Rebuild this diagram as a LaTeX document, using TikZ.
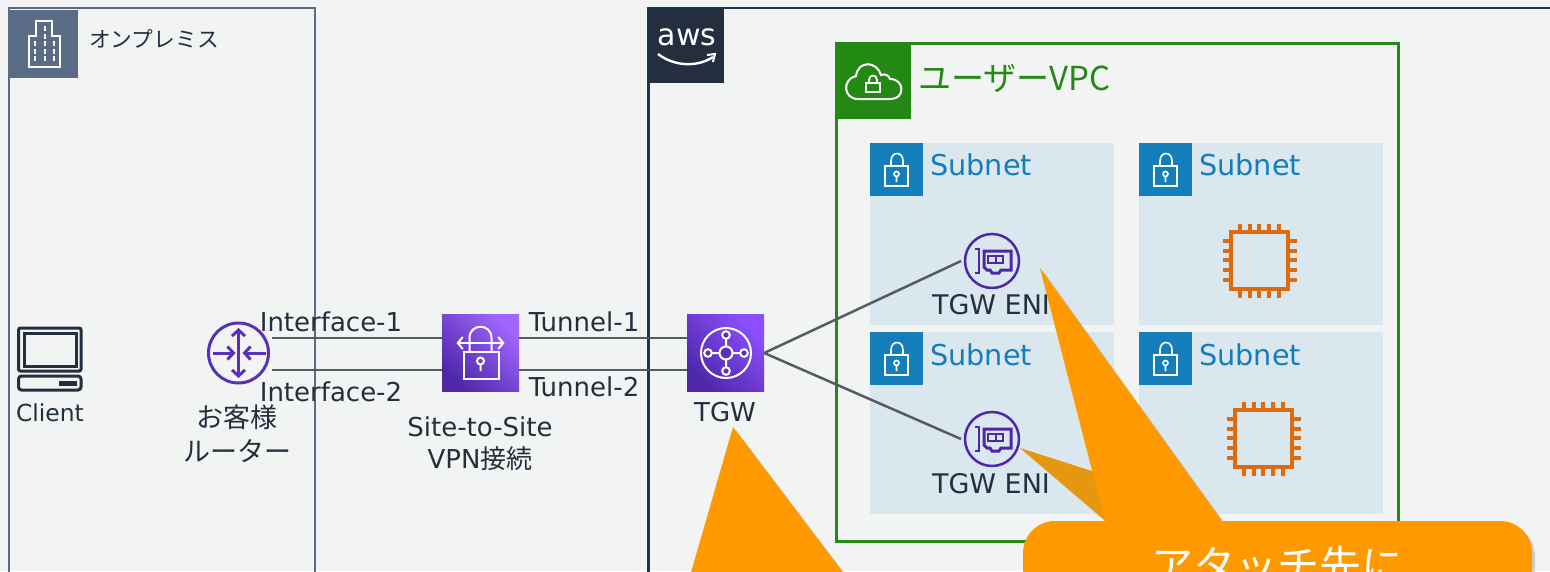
\documentclass[tikz,border=0pt]{standalone}
\usepackage{fontspec}
\setmainfont{DejaVu Sans}
\newfontfamily\jpfont{Noto Sans CJK JP}
\usetikzlibrary{arrows.meta,shadows}
\definecolor{pagebg}{HTML}{F2F4F3}
\definecolor{premblue}{HTML}{5A6B86}
\definecolor{awsdark}{HTML}{232F3E}
\definecolor{awsline}{HTML}{16384F}
\definecolor{vpcgreen}{HTML}{248814}
\definecolor{subnetbg}{HTML}{DBE7EE}
\definecolor{subnetblue}{HTML}{147EBA}
\definecolor{netpurple}{HTML}{5A30B5}
\definecolor{enipurple}{HTML}{4D27A8}
\definecolor{vpnlight}{HTML}{A166FF}
\definecolor{tgwlight}{HTML}{8C4FFF}
\definecolor{chiporange}{HTML}{DD6B10}
\definecolor{linegrey}{HTML}{545B64}
\definecolor{callorange}{HTML}{FF9900}
\definecolor{calldark}{HTML}{E5970F}
\tikzset{
	textlabel/.style={text=awsdark,font=\fontsize{26}{32}\selectfont,align=center,inner sep=0pt},
	iconbox/.style={rectangle,minimum size=77pt,inner sep=0pt,bottom color=enipurple,top color=#1,shading angle=-45},
	link/.style={linegrey,line width=2.5pt},
	callshape/.style={fill=callorange,drop shadow={shadow xshift=3pt,shadow yshift=-3pt,opacity=.16,fill=black}},
	router/.pic={
		\draw [netpurple,line width=3pt] (0,0) circle (30);
		\draw [netpurple,line width=3pt,{Straight Barb[length=6pt,width=13pt]}-{Straight Barb[length=6pt,width=13pt]}] (0,-25) -- (0,25);
		\draw [netpurple,line width=3pt,-{Straight Barb[length=6pt,width=13pt]}] (-26,0) -- (-3,0);
		\draw [netpurple,line width=3pt,-{Straight Barb[length=6pt,width=13pt]}] (27,0) -- (4,0);
	},
	vpnlock/.pic={
		\draw [white,line width=2pt,{Straight Barb[length=5pt,width=12pt]}-{Straight Barb[length=5pt,width=12pt]}] (-24,-10) -- (24,-10);
		\draw [white,line width=2pt] (-11,-1) -- (-11,-15) .. controls (-11,-30) and (11,-30) .. (11,-15) -- (11,-1);
		\draw [white,line width=2pt] (-17,-1) rectangle (18,26);
		\draw [white,line width=2pt] (0,8) circle (3.5) (0,11.5) -- (0,18);
	},
	tgwhub/.pic={
		\draw [white,line width=2pt] (0,0) circle (25) (0,-18) -- (0,18) (-18,0) -- (18,0);
		\foreach \hubx/\huby in {0/-18,0/18,-18/0,18/0}
		\filldraw [white,line width=2pt,fill=netpurple] (\hubx,\huby) circle (3.8);
		\filldraw [white,line width=2pt,fill=netpurple] (0,0) circle (6.5);
	},
	enicard/.pic={
		\draw [enipurple,line width=2pt] (-17,-12) -- (-13,-12) -- (-13,12) -- (-17,12);
		\draw [enipurple,line width=3pt] (-8,-10) -- (19,-10) -- (19,9) -- (9,9) -- (7,12) -- (0,12) -- (-2,9) -- (-5,9) -- (-8,6) -- cycle;
		\draw [enipurple,line width=2pt] (-4,-5) rectangle (11,2) (3.5,-5) -- (3.5,2);
	},
	chipicon/.pic={
		\draw [chiporange,line width=4pt] (-28.5,-28.5) rectangle (28.5,28.5);
		\foreach \pin in {-19.5,-9.5,-.5,9.5,19.5} {
			\draw [chiporange,line width=4pt] (\pin,-37) -- (\pin,-30) (\pin,30) -- (\pin,37);
			\draw [chiporange,line width=4pt] (-37,\pin) -- (-30,\pin) (30,\pin) -- (37,\pin);
		}
	},
	subnetlock/.pic={
		\fill [subnetblue] (0,0) rectangle (53,53);
		\draw [white,line width=1.6pt] (15,23) rectangle (38,43);
		\draw [white,line width=1.6pt] (21,23) -- (21,18) .. controls (21,8) and (33,8) .. (33,18) -- (33,23);
		\draw [white,line width=1.6pt] (26.5,31) circle (2.5) (26.5,33.5) -- (26.5,39);
	},
}
\begin{document}
\begin{tikzpicture}[x=1pt,y=-1pt,>=latex]
	\useasboundingbox (0,0) rectangle (1550,571);
	\clip (0,0) rectangle (1550,571);
	\fill [pagebg] (0,0) rectangle (1550,571);
	% on-premises box
	\draw [premblue,line width=2.5pt] (9,8) rectangle (315,600);
	\fill [premblue] (9,10) rectangle (78,78);
	\draw [white,line width=1.6pt] (29,67) -- (29,36) -- (36,36) -- (36,21) -- (52,21) -- (52,36) -- (60,36) -- (60,67) -- cycle;
	\foreach \winx/\wintop in {35/41,45/26,54/41}
	\draw [white,line width=1.6pt,dash pattern=on 5pt off 2.5pt] (\winx,\wintop) -- (\winx,63);
	\node [textlabel,anchor=west,font=\fontsize{21.7}{26}\jpfont] (onprem) at (89,39) {オンプレミス};
	% aws box
	\draw [awsline,line width=2.5pt] (648.5,8) rectangle (1600,600);
	\fill [awsdark] (649,9) rectangle (724,83);
	\node [text=white,inner sep=0pt,font=\fontsize{30}{30}\selectfont] (awslogo) at (687,37) {aws};
	\draw [white,line width=2.4pt] (658,54) .. controls (675,67) and (698,67) .. (713,57);
	\draw [white,line width=2pt] (707,55) -- (715,54) -- (713,62);
	% vpc box
	\draw [vpcgreen,line width=3pt] (836,43.5) rectangle (1398,541);
	\fill [vpcgreen] (837,45) rectangle (911,119);
	\draw [white,line width=2pt] (858,99) -- (891,99) .. controls (905,99) and (905,79) .. (890,79) .. controls (888,74) and (884,74) .. (881,75) .. controls (877,61) and (858,60) .. (856,76) .. controls (842,79) and (843,99) .. (858,99);
	\draw [white,line width=1.8pt] (866,83) rectangle (880,92);
	\draw [white,line width=1.8pt] (869,83) -- (869,80) .. controls (869,74) and (877,74) .. (877,80) -- (877,83);
	\node [anchor=west,inner sep=0pt,text=vpcgreen,font=\fontsize{33}{33}\jpfont] (vpc) at (918,78) {ユーザーVPC};
	% subnets
	\foreach \subx/\suby/\subtext in {870/143/22,1139/143/22,870/332/23,1139/332/23} {
		\fill [subnetbg] (\subx,\suby) rectangle +(244,182);
		\pic at (\subx,\suby) {subnetlock};
		\node [anchor=west,inner sep=0pt,text=subnetblue,font=\fontsize{28.7}{29}\selectfont] (subnet\subx\suby) at (\subx+60,\suby+\subtext) {Subnet};
	}
	\pic at (1259.5,260.5) {chipicon};
	\pic at (1263.5,438.5) {chipicon};
	% icons
	\pic at (238.5,353) {router};
	\node [iconbox=vpnlight] (vpn) at (480.5,353) {};
	\pic at (480.5,353) {vpnlock};
	\node [iconbox=tgwlight] (tgw) at (725.5,353) {};
	\pic at (726,353) {tgwhub};
	\node [circle,draw=enipurple,line width=2.5pt,minimum size=54pt,inner sep=0pt,outer sep=4pt] (enitop) at (992,261) {};
	\pic at (992,261) {enicard};
	\node [circle,draw=enipurple,line width=2.5pt,minimum size=54pt,inner sep=0pt,outer sep=4pt] (enibot) at (992,439) {};
	\pic at (992,439) {enicard};
	% client
	\draw [awsdark,line width=3pt,rounded corners=2pt] (18.5,328) rectangle (81,371);
	\draw [awsdark,line width=3pt] (24,333.5) rectangle (76,366);
	\draw [awsdark,line width=3pt,rounded corners=3pt] (18.5,376) rectangle (81,390);
	\fill [awsdark] (59,380.5) rectangle (77,385.5);
	% connectors
	\coordinate (ifone) at (272,338);
	\coordinate (iftwo) at (272,370);
	\draw [link] (ifone) -- (ifone-|vpn.west);
	\draw [link] (iftwo) -- (iftwo-|vpn.west);
	\draw [link] (ifone-|vpn.east) -- (ifone-|tgw.west);
	\draw [link] (iftwo-|vpn.east) -- (iftwo-|tgw.west);
	\draw [linegrey,line width=2.5pt] (tgw.east) -- (enitop.west);
	\draw [linegrey,line width=2.5pt] (tgw.east) -- (enibot.west);
	% labels
	\node [textlabel,font=\fontsize{23.4}{28}\selectfont] (client) at (50,413) {Client};
	\node [textlabel,font=\fontsize{27}{34}\jpfont] (routername) at (237,434) {お客様\\ルーター};
	\node [textlabel] (ifonelabel) at (331,322) {Interface-1};
	\node [textlabel] (iftwolabel) at (331,392) {Interface-2};
	\node [textlabel] (vpnname) at (480,444) {Site-to-Site\\VPN{\jpfont 接続}};
	\node [textlabel] (tunone) at (584,322) {Tunnel-1};
	\node [textlabel] (tuntwo) at (584,387) {Tunnel-2};
	\node [textlabel] (tgwname) at (725,412) {TGW};
	\node [textlabel,font=\fontsize{27}{32}\selectfont] (enitopname) at (991,305) {TGW ENI};
	\node [textlabel,font=\fontsize{27}{32}\selectfont] (enibotname) at (991,484) {TGW ENI};
	% callouts
	\fill [calldark] (1020,448) -- (1095,472) -- (1110,525) -- cycle;
	\path [callshape] (733,427) -- (864,600) -- (683,600) -- cycle;
	\path [callshape,rounded corners=32pt] (1023,620) -- (1023,521) [sharp corners] -- (1105,521) -- (1040,268) -- (1222,521) [rounded corners=32pt] -- (1532,521) -- (1532,620) -- cycle;
	\node [anchor=base,text=white,inner sep=0pt,font=\fontsize{42}{42}\jpfont] (callouttext) at (1277,581) {アタッチ先に};
\end{tikzpicture}
\end{document}
